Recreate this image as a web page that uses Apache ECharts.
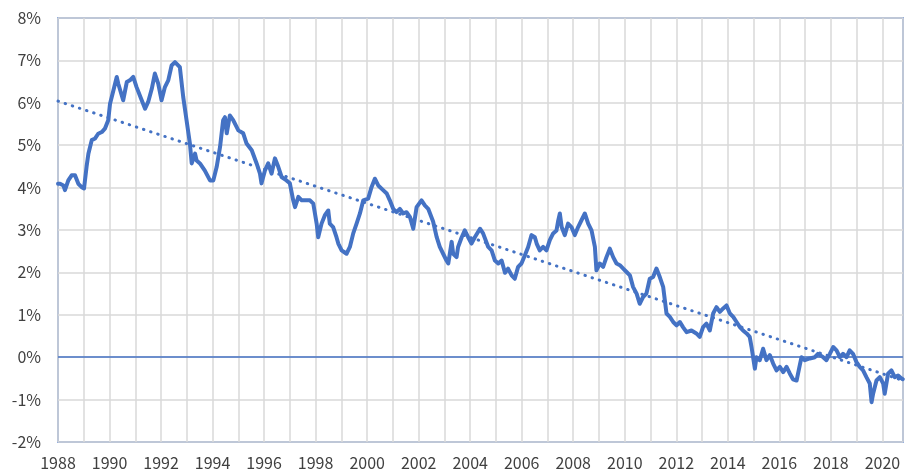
<!DOCTYPE html>
<html>
<head>
<meta charset="utf-8">
<script src="https://cdn.jsdelivr.net/npm/echarts@6/dist/echarts.min.js"></script>
<style>
html,body{margin:0;padding:0;background:#fff;}
#chart{width:906px;height:472px;}
</style>
</head>
<body>
<div id="chart"></div>
<script>
// yield readings (decimal year, %)
var years = [
	1988.00,1988.08,1988.21,1988.27,1988.40,1988.53,1988.66,1988.79,1988.92,1989.01,
	1989.11,1989.18,1989.31,1989.44,1989.56,1989.70,1989.82,1989.95,1990.02,1990.15,
	1990.28,1990.34,1990.53,1990.67,1990.79,1990.92,1991.05,1991.25,1991.38,1991.50,
	1991.64,1991.76,1991.89,1992.02,1992.15,1992.28,1992.41,1992.54,1992.73,1992.86,
	1992.99,1993.12,1993.19,1993.32,1993.38,1993.51,1993.70,1993.90,1994.03,1994.16,
	1994.29,1994.41,1994.48,1994.55,1994.67,1994.80,1995.00,1995.19,1995.32,1995.52,
	1995.71,1995.84,1995.90,1996.03,1996.16,1996.29,1996.42,1996.55,1996.68,1996.87,
	1997.00,1997.13,1997.20,1997.33,1997.46,1997.58,1997.78,1997.91,1998.04,1998.10,
	1998.23,1998.36,1998.49,1998.55,1998.68,1998.81,1998.88,1999.01,1999.20,1999.33,
	1999.46,1999.59,1999.72,1999.85,2000.04,2000.17,2000.30,2000.43,2000.62,2000.76,
	2000.88,2001.01,2001.14,2001.27,2001.40,2001.53,2001.66,2001.79,2001.92,2002.11,
	2002.24,2002.37,2002.56,2002.70,2002.82,2002.95,2003.08,2003.15,2003.28,2003.34,
	2003.47,2003.53,2003.67,2003.79,2003.92,2004.05,2004.18,2004.38,2004.50,2004.70,
	2004.83,2004.96,2005.09,2005.22,2005.35,2005.47,2005.61,2005.73,2005.86,2005.99,
	2006.12,2006.25,2006.38,2006.51,2006.58,2006.70,2006.83,2006.96,2007.09,2007.22,
	2007.35,2007.41,2007.48,2007.55,2007.67,2007.80,2007.93,2008.06,2008.19,2008.32,
	2008.45,2008.58,2008.71,2008.84,2008.90,2009.03,2009.16,2009.29,2009.42,2009.55,
	2009.68,2009.81,2009.94,2010.07,2010.20,2010.32,2010.46,2010.58,2010.71,2010.84,
	2010.97,2011.10,2011.23,2011.36,2011.49,2011.62,2011.75,2011.88,2012.01,2012.14,
	2012.26,2012.40,2012.59,2012.78,2012.91,2013.04,2013.17,2013.30,2013.43,2013.56,
	2013.69,2013.82,2013.95,2014.08,2014.21,2014.34,2014.47,2014.59,2014.73,2014.85,
	2014.92,2015.05,2015.11,2015.24,2015.37,2015.50,2015.63,2015.76,2015.89,2016.02,
	2016.15,2016.28,2016.41,2016.53,2016.67,2016.79,2016.86,2016.99,2017.18,2017.38,
	2017.50,2017.70,2017.83,2017.96,2018.09,2018.22,2018.35,2018.47,2018.61,2018.73,
	2018.86,2018.99,2019.12,2019.25,2019.38,2019.51,2019.58,2019.64,2019.77,2019.90,
	2020.03,2020.09,2020.22,2020.35,2020.48,2020.61,2020.74,2020.79
];
var yields = [
	4.09,4.09,4.05,3.94,4.17,4.29,4.29,4.09,4.01,3.98,
	4.50,4.80,5.12,5.16,5.27,5.31,5.39,5.59,5.98,6.29,
	6.61,6.45,6.06,6.49,6.53,6.61,6.37,6.06,5.86,6.02,
	6.33,6.69,6.45,6.06,6.37,6.53,6.88,6.96,6.84,6.14,
	5.59,5.04,4.57,4.80,4.64,4.57,4.40,4.17,4.17,4.49,
	4.96,5.59,5.66,5.28,5.70,5.59,5.35,5.28,5.04,4.88,
	4.57,4.33,4.10,4.40,4.57,4.33,4.69,4.49,4.25,4.17,
	4.10,3.70,3.54,3.78,3.70,3.70,3.70,3.62,3.15,2.83,
	3.15,3.35,3.46,3.15,3.07,2.83,2.68,2.52,2.44,2.60,
	2.92,3.15,3.39,3.70,3.74,4.01,4.21,4.05,3.94,3.86,
	3.70,3.50,3.42,3.50,3.39,3.42,3.31,3.03,3.54,3.70,
	3.58,3.50,3.20,2.83,2.60,2.44,2.28,2.21,2.72,2.44,
	2.36,2.60,2.83,2.99,2.83,2.68,2.83,3.03,2.92,2.60,
	2.52,2.28,2.21,2.28,1.99,2.09,1.93,1.85,2.13,2.21,
	2.40,2.60,2.88,2.83,2.68,2.52,2.60,2.52,2.76,2.92,
	2.99,3.20,3.39,3.07,2.88,3.15,3.07,2.88,3.07,3.23,
	3.39,3.15,2.99,2.60,2.05,2.21,2.13,2.36,2.56,2.36,
	2.21,2.17,2.09,2.01,1.93,1.66,1.50,1.26,1.42,1.50,
	1.85,1.89,2.09,1.89,1.66,1.03,0.95,0.83,0.75,0.83,
	0.71,0.59,0.63,0.56,0.48,0.71,0.79,0.63,1.03,1.18,
	1.07,1.15,1.22,1.03,0.95,0.83,0.71,0.63,0.56,0.48,
	0.24,-0.27,0.00,-0.07,0.20,-0.07,0.05,-0.15,-0.31,-0.23,
	-0.35,-0.23,-0.39,-0.52,-0.55,-0.20,0.00,-0.07,-0.03,0.00,
	0.08,0.00,-0.07,0.08,0.24,0.16,0.00,0.08,0.00,0.16,
	0.08,-0.11,-0.23,-0.31,-0.47,-0.62,-1.06,-0.86,-0.55,-0.47,
	-0.62,-0.86,-0.39,-0.31,-0.47,-0.43,-0.50,-0.52
];
// linear trend end points
var trendYears = [1988, 2020.8];
var trendValues = [6.04, -0.55];

var xMin = 1988, xMax = 2020.8;
var yMin = -2, yMax = 8;

var blue = '#4472C4';
var txtColor = '#404040';
var font = '"Noto Sans CJK JP", "Noto Sans", sans-serif';

var lineData = [];
for (var i = 0; i < years.length; i++) lineData.push([years[i], yields[i]]);
var trendData = [];
for (var j = 0; j < trendYears.length; j++) trendData.push([trendYears[j], trendValues[j]]);

var myChart = echarts.init(document.getElementById('chart'), null, {renderer: 'canvas'});
var option = {
	animation: false,
	backgroundColor: '#fff',
	grid: {
		left: 58, right: 3, top: 18, bottom: 30,
		show: true,
		borderColor: blue,
		borderWidth: 1.5,
		backgroundColor: 'transparent'
	},
	xAxis: {
		type: 'value',
		min: xMin, max: xMax, interval: 1,
		axisLine: {show: false},
		axisTick: {show: false},
		splitLine: {show: true, lineStyle: {color: '#d9d9d9', width: 1.5}},
		axisLabel: {
			color: txtColor, fontSize: 16, fontFamily: font, margin: 13,
			showMaxLabel: false,
			formatter: function (v) {
				return (Math.round(v) === v && v % 2 === 0) ? String(v) : '';
			}
		}
	},
	yAxis: {
		type: 'value',
		min: yMin, max: yMax, interval: 1,
		axisLine: {show: false},
		axisTick: {show: false},
		splitLine: {show: true, lineStyle: {color: '#d9d9d9', width: 1.5}},
		axisLabel: {color: txtColor, fontSize: 16, fontFamily: font, margin: 17, formatter: '{value}%'}
	},
	series: [
		{
			type: 'line',
			data: lineData,
			showSymbol: false,
			lineStyle: {color: blue, width: 4, join: 'round', cap: 'round'},
			markLine: {
				silent: true,
				symbol: 'none',
				label: {show: false},
				lineStyle: {color: blue, width: 1.5, type: 'solid'},
				data: [{yAxis: 0}]
			},
			z: 3
		},
		{
			type: 'line',
			data: trendData,
			showSymbol: false,
			lineStyle: {color: blue, width: 3, type: [0.5, 7], cap: 'round'},
			z: 4
		}
	]
};
myChart.setOption(option);
</script>
</body>
</html>
